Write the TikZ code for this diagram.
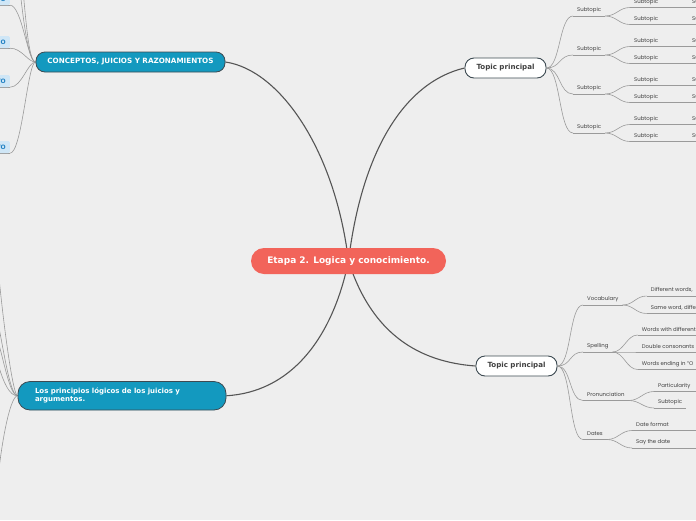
\documentclass[tikz,border=0pt]{standalone}
\usepackage{fontspec}
\setmainfont{DejaVu Sans}
\newfontfamily\labelfont{Poppins}
\usepackage{tikz}
\usetikzlibrary{positioning}
\definecolor{MapBg}{HTML}{EEEEEE}
\definecolor{MapCoral}{HTML}{F2645A}
\definecolor{MapTeal}{HTML}{1399BF}
\definecolor{MapEdge}{HTML}{3D4A52}
\definecolor{MapLink}{HTML}{555555}
\definecolor{MapThin}{HTML}{9A9A9A}
\definecolor{MapText}{HTML}{404040}
\definecolor{MapBoxBG}{HTML}{CFE6F6}
\definecolor{MapBoxText}{HTML}{1E7FC2}
\pgfdeclarelayer{bg}
\pgfdeclarelayer{links}
\pgfsetlayers{bg,links,main}
\tikzset{
mapcentral/.style={fill=MapCoral, text=white, rounded corners=13pt, minimum width=195pt,
  minimum height=26pt, font=\bfseries\fontsize{9}{10}\selectfont},
mapmain/.style={draw=MapEdge, line width=0.8pt, fill=MapTeal, text=white, rounded corners=9pt,
  minimum height=20pt, font=\bfseries\fontsize{7.2}{8}\selectfont},
maptopic/.style={draw=MapEdge, line width=0.9pt, fill=white, text=MapText, rounded corners=9pt,
  minimum width=81pt, minimum height=20pt, font=\bfseries\fontsize{7.1}{8}\selectfont},
maplabel/.style={anchor=south west, inner xsep=4pt, inner ysep=0pt, minimum height=11pt,
  text=MapText, font=\labelfont\fontsize{5.4}{6}\selectfont},
mapbox/.style={anchor=east, fill=MapBoxBG, text=MapBoxText, rounded corners=1.5pt, inner xsep=4pt,
  inner ysep=0pt, minimum height=12pt, font=\bfseries\fontsize{6}{7}\selectfont},
maplink/.style={draw=MapLink, line width=1.1pt},
mapthin/.style={draw=MapThin, line width=0.6pt}
}

\begin{document}
\begin{tikzpicture}[x=1pt, y=-1pt]
\useasboundingbox (0,0) rectangle (696,520);
\clip (0,0) rectangle (696,520);
\begin{pgfonlayer}{bg}
\fill[MapBg] (0,0) rectangle (696,520);
\end{pgfonlayer}

% main nodes
\node[mapcentral] (etapa) at (348.5,261) {Etapa 2. Logica y conocimiento.};
\node[mapmain, minimum width=189pt] (cjr) at (130.5,62) {CONCEPTOS, JUICIOS Y RAZONAMIENTOS};
\node[mapmain, rounded corners=12pt, minimum height=28.5pt, text width=174pt, inner xsep=17pt,
  align=left, font=\bfseries\fontsize{7}{8}\selectfont] (plj) at (122,395.75)
  {Los principios lógicos de los juicios y\\argumentos.};
\node[maptopic] (tp1) at (505.5,68) {Topic principal};
\node[maptopic] (tp2) at (516.5,366) {Topic principal};

% left boxes
\node[mapbox] (bx1) at (10,-1) {O};
\node[mapbox] (bx2) at (10,42) {IO};
\node[mapbox] (bx3) at (10,81) {TO};
\node[mapbox] (bx4) at (10,147) {TO};
\coordinate (cjr-up1) at (19,-20);
\coordinate (cjr-up2) at (22,-20);
\coordinate (plj-l1) at (-4,240);
\coordinate (plj-l2) at (-3,318);
\coordinate (plj-l3) at (-3,338);
\coordinate (plj-l4) at (-2,364);
\coordinate (plj-l5) at (-3,490);

% top right
\foreach \i/\y in {1/16,2/55,3/94,4/133} {
  \node[maplabel] (s\i) at (573,\y) {Subtopic};
  \node[maplabel] (s\i-1) at (630,\y-8.5) {Subtopic};
  \node[maplabel] (s\i-2) at (630,\y+8.5) {Subtopic};
  \node[maplabel] (g\i-1) at (688,\y-8.5) {Subtopic};
  \node[maplabel] (g\i-2) at (688,\y+8.5) {Subtopic};
}

% bottom right
\node[maplabel] (voc) at (583,305) {Vocabulary};
\node[maplabel] (dw) at (646.7,296) {Different words,};
\node[maplabel] (sw) at (646.7,313.5) {Same word, different};
\node[maplabel] (spe) at (583,352) {Spelling};
\node[maplabel] (ww) at (637.7,335) {Words with different};
\node[maplabel] (dc) at (637.7,352) {Double consonants};
\node[maplabel] (we) at (637.7,369.5) {Words ending in “O};
\node[maplabel] (pro) at (583,400.5) {Pronunciation};
\node[maplabel] (par) at (654,391.5) {Particularity};
\node[maplabel] (st) at (654,408) {Subtopic};
\node[maplabel] (dat) at (583,439.5) {Dates};
\node[maplabel] (df) at (632,430.5) {Date format};
\node[maplabel] (sd) at (632,448) {Say the date};
\coordinate (edgeR) at (704,0);

\begin{pgfonlayer}{links}
\draw[maplink] (etapa.center) .. controls (335,150) and (280,70) .. (cjr.east);
\draw[maplink] (etapa.center) .. controls (362,150) and (405,82) .. (tp1.west);
\draw[maplink] (etapa.center) .. controls (332,340) and (290,392) .. (plj.east);
\draw[maplink] (etapa.center) .. controls (372,335) and (420,362) .. (tp2.west);

\foreach \i in {1,...,4} {
  \draw[mapthin] (bx\i.south west) -- (bx\i.south east);
  \draw[mapthin] (bx\i.south east) .. controls +(12,0) and +(-8,0) .. (cjr.west);
}
\draw[mapthin] (cjr.west) .. controls +(-7,0) and (23,20) .. (cjr-up1);
\draw[mapthin] (cjr.west) .. controls +(-7,0) and (26,20) .. (cjr-up2);

\draw[mapthin] (plj.west) .. controls +(-6,0) and (-2,280) .. (plj-l1);
\draw[mapthin] (plj.west) .. controls +(-8,0) and (3,345) .. (plj-l2);
\draw[mapthin] (plj.west) .. controls +(-8,0) and (4,360) .. (plj-l3);
\draw[mapthin] (plj.west) .. controls +(-8,0) and (4,384) .. (plj-l4);
\draw[mapthin] (plj.west) .. controls +(-8,0) and (0,450) .. (plj-l5);

\foreach \i in {1,...,4} {
  \draw[mapthin] (tp1.east) .. controls +(14,0) and +(-14,0) .. (s\i.south west);
  \draw[mapthin] (s\i.south west) -- (s\i.south east);
  \draw[mapthin] (s\i.south east) .. controls +(11,0) and +(-11,0) .. (s\i-1.south west);
  \draw[mapthin] (s\i.south east) .. controls +(11,0) and +(-11,0) .. (s\i-2.south west);
  \draw[mapthin] (s\i-1.south west) -- (g\i-1.south west -| edgeR);
  \draw[mapthin] (s\i-2.south west) -- (g\i-2.south west -| edgeR);
}

\foreach \b in {voc,spe,pro,dat} {
  \draw[mapthin] (tp2.east) .. controls +(14,0) and +(-14,0) .. (\b.south west);
  \draw[mapthin] (\b.south west) -- (\b.south east);
}
\foreach \b/\c in {voc/dw,voc/sw,spe/ww,spe/dc,spe/we,pro/par,pro/st,dat/df,dat/sd} {
  \draw[mapthin] (\b.south east) .. controls +(11,0) and +(-11,0) .. (\c.south west);
}
\foreach \c in {dw,sw,ww,dc,we,par,df,sd} {
  \draw[mapthin] (\c.south west) -- (\c.south west -| edgeR);
}
\draw[mapthin] (st.south west) -- (st.south east);
\end{pgfonlayer}
\end{tikzpicture}
\end{document}
